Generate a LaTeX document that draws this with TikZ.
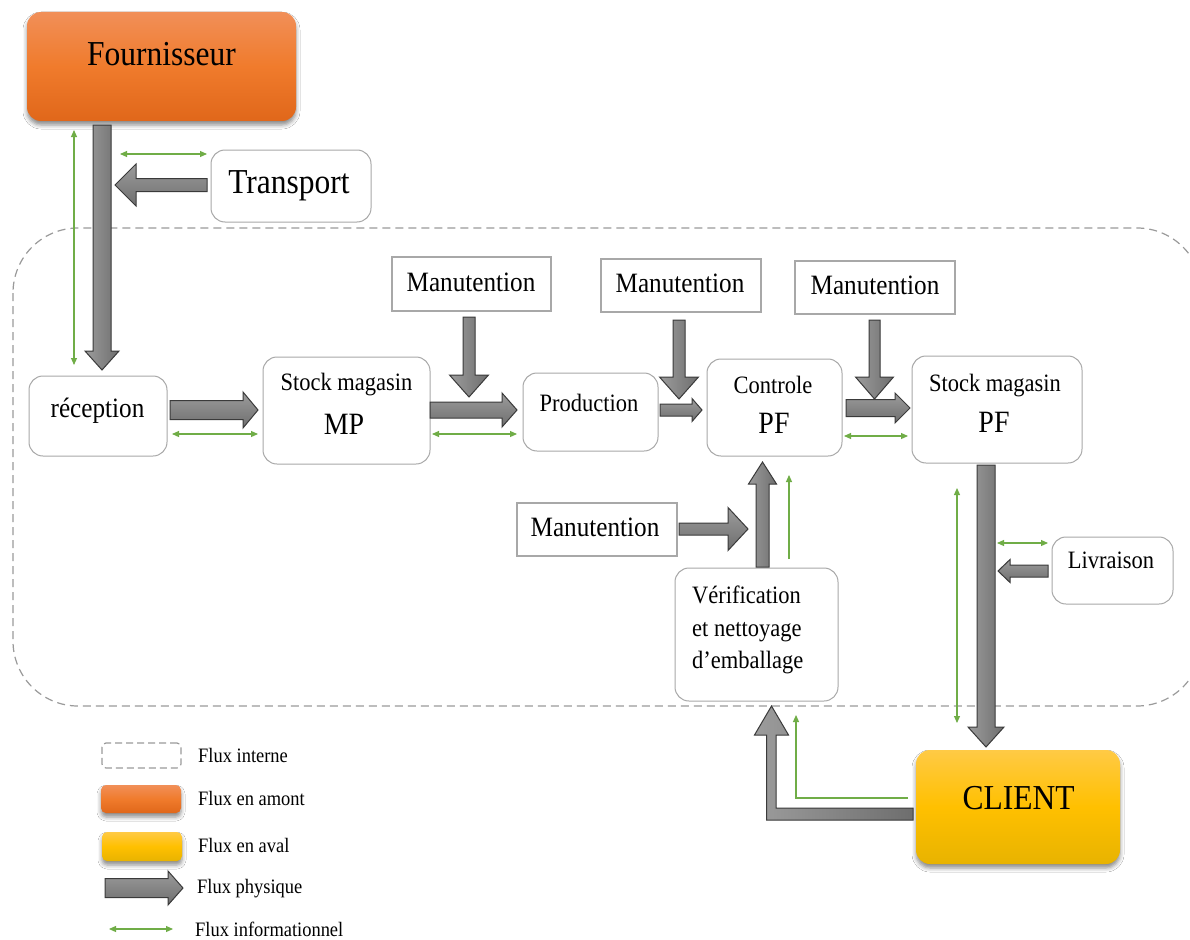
\documentclass[tikz,border=0pt]{standalone}
\usepackage{fontspec}
\setmainfont{Liberation Serif}[FakeStretch=0.9]
\usetikzlibrary{arrows.meta,shadows.blur}
\definecolor{gline}{HTML}{70AD47}
\definecolor{boxgray}{HTML}{A8A8A8}
\definecolor{fatedge}{HTML}{3A3A3A}
\definecolor{fatlight}{HTML}{9C9C9C}
\definecolor{fatdark}{HTML}{6E6E6E}
\definecolor{orTop}{HTML}{F18F58}
\definecolor{orMid}{HTML}{F07B2C}
\definecolor{orBot}{HTML}{E0671A}
\definecolor{yeTop}{HTML}{FFCA45}
\definecolor{yeMid}{HTML}{FFC000}
\definecolor{yeBot}{HTML}{E8B300}
\definecolor{dashgray}{HTML}{9A9A9A}
% straight fat arrow: [style] {from}{tip}{half shaft}{half head}{head length}
\newcommand\fatarrow[6][]{%
  \path[fat,#1] let \p1=(#2), \p2=(#3),
    \n1={veclen(\x2-\x1,\y2-\y1)}, \n2={(\x2-\x1)/\n1}, \n3={(\y2-\y1)/\n1} in
    ({\x1-#4*\n3},{\y1+#4*\n2}) --
    ({\x2-#6*\n2-#4*\n3},{\y2-#6*\n3+#4*\n2}) --
    ({\x2-#6*\n2-#5*\n3},{\y2-#6*\n3+#5*\n2}) --
    (\p2) --
    ({\x2-#6*\n2+#5*\n3},{\y2-#6*\n3-#5*\n2}) --
    ({\x2-#6*\n2+#4*\n3},{\y2-#6*\n3-#4*\n2}) --
    ({\x1+#4*\n3},{\y1-#4*\n2}) -- cycle;}
\begin{document}
\begin{tikzpicture}[x=1pt,y=-1pt,
  rbox/.style={draw=boxgray, line width=1pt, rounded corners=14pt, fill=white, inner sep=0pt},
  sbox/.style={draw=boxgray, line width=1.3pt, fill=white, inner sep=0pt},
  orbox/.style={rounded corners=14pt, inner sep=0pt, top color=orTop, bottom color=orBot, middle color=orMid,
     blur shadow={shadow xshift=0pt, shadow yshift=-4pt, shadow blur radius=4pt, shadow opacity=45}},
  yebox/.style={rounded corners=14pt, inner sep=0pt, top color=yeTop, bottom color=yeBot, middle color=yeMid,
     blur shadow={shadow xshift=0pt, shadow yshift=-4pt, shadow blur radius=4pt, shadow opacity=45}},
  txt/.style={inner sep=0pt, anchor=base},
  fat/.style={draw=fatedge, line width=1pt, line join=miter, top color=fatlight, bottom color=fatdark},
  fatv/.style={draw=fatedge, line width=1pt, line join=miter, left color=fatlight, right color=fatdark},
  info/.style={draw=gline, line width=1.1pt, {Triangle[length=7pt,width=6pt]}-{Triangle[length=7pt,width=6pt]}},
  infoone/.style={draw=gline, line width=1.1pt, -{Triangle[length=7pt,width=6pt]}},
  legend/.style={txt, anchor=base west, font=\fontsize{20.5}{24}\selectfont}
]
\useasboundingbox[fill=white] (0,0) rectangle (1190,939);

% internal flow region
\draw[dashgray, line width=1.2pt, dash pattern=on 8pt off 5pt, rounded corners=65pt]
  (13,228) rectangle (1202,706);

% ---------- boxes ----------
\node[orbox, minimum width=269pt, minimum height=109pt] (four) at (161.5,66.5) {};
\node[rbox, minimum width=160pt, minimum height=72pt] (trans) at (291,186) {};
\node[rbox, minimum width=138pt, minimum height=80pt] (rec) at (98,416) {};
\node[rbox, minimum width=167pt, minimum height=107pt] (smp) at (346.5,410.5) {};
\node[sbox, minimum width=159pt, minimum height=54pt] (man1) at (471.5,284) {};
\node[rbox, minimum width=135pt, minimum height=78pt] (prod) at (590.5,412) {};
\node[sbox, minimum width=160pt, minimum height=53pt] (man2) at (681,285.5) {};
\node[rbox, minimum width=135pt, minimum height=97pt] (ctrl) at (774.5,407.5) {};
\node[sbox, minimum width=160pt, minimum height=53pt] (man3) at (875,287.5) {};
\node[rbox, minimum width=170pt, minimum height=107pt] (spf) at (997,409.5) {};
\node[sbox, minimum width=160pt, minimum height=53pt] (man4) at (597,529.5) {};
\node[rbox, minimum width=163pt, minimum height=133pt] (verif) at (756.5,634.5) {};
\node[rbox, minimum width=121pt, minimum height=67pt] (livr) at (1112.5,570.5) {};
\node[yebox, minimum width=204pt, minimum height=114pt] (client) at (1018,807) {};

% ---------- texts ----------
\node[txt, font=\fontsize{35}{40}\selectfont] (t-four) at (161.5,66) {Fournisseur};
\node[txt, font=\fontsize{35}{40}\selectfont] (t-trans) at (289,193) {Transport};
\node[txt, font=\fontsize{28}{32}\selectfont] (t-rec) at (97.5,417) {réception};
\node[txt, font=\fontsize{25}{30}\selectfont] (t-smp1) at (346.5,390) {Stock magasin};
\node[txt, font=\fontsize{31}{36}\selectfont] (t-smp2) at (344,434) {MP};
\node[txt, font=\fontsize{28}{32}\selectfont] (t-man1) at (471,291) {Manutention};
\node[txt, font=\fontsize{28}{32}\selectfont] (t-man2) at (680,292) {Manutention};
\node[txt, font=\fontsize{25}{30}\selectfont] (t-prod) at (589,411) {Production};
\node[txt, font=\fontsize{25}{30}\selectfont] (t-ctrl1) at (773,393) {Controle};
\node[txt, font=\fontsize{31}{36}\selectfont] (t-ctrl2) at (774,433) {PF};
\node[txt, font=\fontsize{28}{32}\selectfont] (t-man3) at (875,294) {Manutention};
\node[txt, font=\fontsize{25}{30}\selectfont] (t-spf1) at (995,391) {Stock magasin};
\node[txt, font=\fontsize{31}{36}\selectfont] (t-spf2) at (994,432) {PF};
\node[txt, font=\fontsize{28}{32}\selectfont] (t-man4) at (595,536) {Manutention};
\node[txt, anchor=base west, font=\fontsize{25}{30}\selectfont] (t-ver1) at (692,603) {Vérification};
\node[txt, anchor=base west, font=\fontsize{25}{30}\selectfont] (t-ver2) at (692,636) {et nettoyage};
\node[txt, anchor=base west, font=\fontsize{25}{30}\selectfont] (t-ver3) at (692,668) {d’emballage};
\node[txt, font=\fontsize{25}{30}\selectfont] (t-livr) at (1111,568) {Livraison};
\node[txt, font=\fontsize{35}{40}\selectfont] (t-client) at (1018.5,809) {CLIENT};

% ---------- physical flow (fat arrows) ----------
\coordinate (a1s) at (102,125);   \coordinate (a1t) at (102,370);
\coordinate (a2s) at (207,185);   \coordinate (a2t) at (115,185);
\coordinate (a3s) at (170,410);   \coordinate (a3t) at (258,410);
\coordinate (a5s) at (430,410);   \coordinate (a5t) at (517,410);
\coordinate (a7s) at (660,410);   \coordinate (a7t) at (702,410);
\coordinate (a9s) at (846,408);   \coordinate (a9t) at (910,408);
\coordinate (a4s) at (469,317);   \coordinate (a4t) at (469,397);
\coordinate (a6s) at (679,320);   \coordinate (a6t) at (679,399);
\coordinate (a8s) at (874.5,320); \coordinate (a8t) at (874.5,399);
\coordinate (a10s) at (986,465);  \coordinate (a10t) at (986,747);
\coordinate (a11s) at (1048,571); \coordinate (a11t) at (998,571);
\coordinate (a12s) at (679,529);  \coordinate (a12t) at (748,529);
\coordinate (a13s) at (762.5,567);\coordinate (a13t) at (762.5,462);
\coordinate (bendS) at (913,814); \coordinate (bendT) at (771.5,706);

\fatarrow[fatv]{a1s}{a1t}{9}{17}{19}
\fatarrow{a2s}{a2t}{6.5}{21}{21}
\fatarrow{a3s}{a3t}{9.5}{18}{15}
\fatarrow{a5s}{a5t}{8}{17}{15}
\fatarrow{a7s}{a7t}{6}{11.5}{10}
\fatarrow{a9s}{a9t}{8.5}{15}{15}
\fatarrow[fatv]{a4s}{a4t}{6}{19.5}{22}
\fatarrow[fatv]{a6s}{a6t}{6}{19.5}{22}
\fatarrow[fatv]{a8s}{a8t}{5.5}{19}{22}
\fatarrow[fatv]{a10s}{a10t}{9}{18}{20}
\fatarrow{a11s}{a11t}{6}{11.5}{12}
\fatarrow{a12s}{a12t}{6}{21.5}{20}
\fatarrow[fatv]{a13s}{a13t}{6.5}{14}{22}
% bent arrow from CLIENT up to verification
\path[fatv] let \p1=(bendS), \p2=(bendT) in
  (\x1,\y1+6) -- (\x2+4.5,\y1+6) -- (\x2+4.5,\y2-29) -- (\x2+17,\y2-29) -- (\p2)
  -- (\x2-17,\y2-29) -- (\x2-5,\y2-29) -- (\x2-5,\y1-6) -- (\x1,\y1-6) -- cycle;

% ---------- information flow (green) ----------
\coordinate (g1a) at (74,130);   \coordinate (g1b) at (74,365);
\coordinate (g2a) at (120,154);  \coordinate (g2b) at (207,154);
\coordinate (g3a) at (172,434);  \coordinate (g3b) at (258,434);
\coordinate (g4a) at (432,434);  \coordinate (g4b) at (517,434);
\coordinate (g5a) at (844,436);  \coordinate (g5b) at (908,436);
\coordinate (g6a) at (957,488);  \coordinate (g6b) at (957,723);
\coordinate (g7a) at (997,543);  \coordinate (g7b) at (1048,543);
\coordinate (g8a) at (789,559);  \coordinate (g8b) at (789,475);
\coordinate (g9a) at (908,798);  \coordinate (g9b) at (796,715);
\draw[info] (g1a) -- (g1b);
\draw[info] (g2a) -- (g2b);
\draw[info] (g3a) -- (g3b);
\draw[info] (g4a) -- (g4b);
\draw[info] (g5a) -- (g5b);
\draw[info] (g6a) -- (g6b);
\draw[info] (g7a) -- (g7b);
\draw[infoone] (g8a) -- (g8b);
\draw[infoone] (g9a) -| (g9b);

% ---------- legend ----------
\node[draw=dashgray, line width=1.2pt, dash pattern=on 7pt off 4pt, rounded corners=4pt,
      minimum width=79pt, minimum height=25pt, inner sep=0pt] (lg1) at (141.5,755.5) {};
\node[orbox, rounded corners=5pt, minimum width=80pt, minimum height=28pt] (lg2) at (141,799) {};
\node[yebox, rounded corners=5pt, minimum width=80pt, minimum height=29pt] (lg3) at (142,846.5) {};
\coordinate (lg4s) at (105,888); \coordinate (lg4t) at (183,888);
\fatarrow{lg4s}{lg4t}{9.5}{17}{15}
\coordinate (lg5a) at (109,929); \coordinate (lg5b) at (173,929);
\draw[info] (lg5a) -- (lg5b);
\node[legend] (lt1) at (198,762) {Flux interne};
\node[legend] (lt2) at (198,805) {Flux en amont};
\node[legend] (lt3) at (198,852) {Flux en aval};
\node[legend] (lt4) at (197,893) {Flux physique};
\node[legend] (lt5) at (195,936) {Flux informationnel};
\end{tikzpicture}
\end{document}
